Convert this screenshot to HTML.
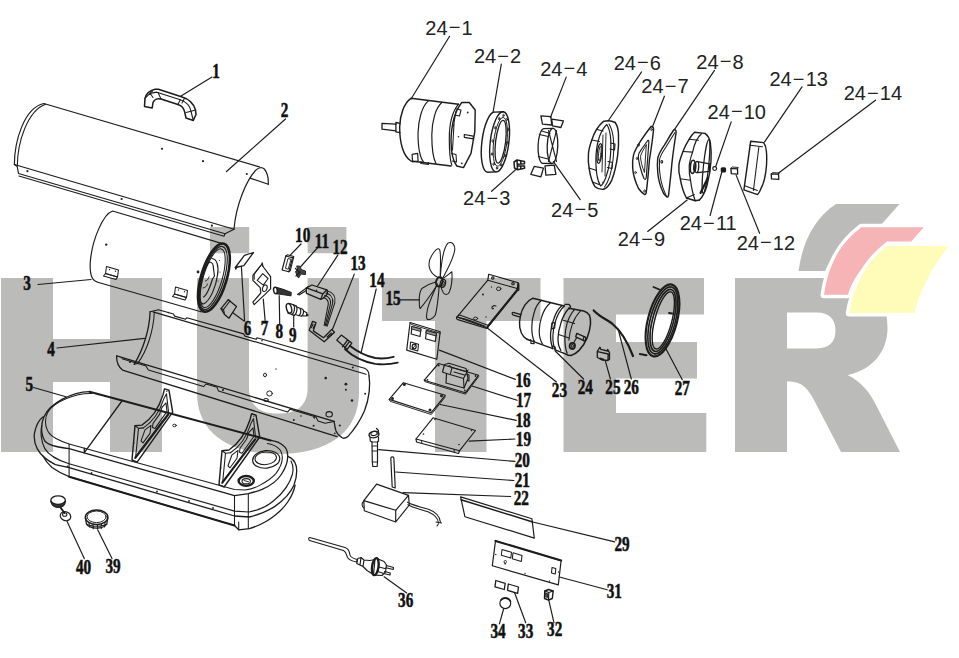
<!DOCTYPE html>
<html><head><meta charset="utf-8"><title>HUTER parts diagram</title>
<style>
html,body{margin:0;padding:0;background:#fff;}
body{width:959px;height:658px;overflow:hidden;font-family:"Liberation Sans",sans-serif;}
svg{display:block}
.n{font-family:"Liberation Serif",serif;font-weight:bold;font-size:20px;}
.s{font-family:"Liberation Sans",sans-serif;font-size:20px;}
</style></head><body>
<svg width="959" height="658" viewBox="0 0 959 658">
<rect width="959" height="658" fill="#fff"/>

<g fill="#bbbbb9" stroke="none">
<path d="M1,278 H53 V339 H110 V278 H162 V452 H110 V382 H53 V452 H1 Z"/>
<rect x="210" y="227" width="39.2" height="26.2"/>
<rect x="307.6" y="227" width="38.8" height="26.2"/>
<path d="M197,278 H249 V388 C249,405 259,413.6 278.3,413.6 C297.5,413.6 307.6,405 307.6,388 V278 H359 V393 C359,432 328,454 278,454 C228,454 197,432 197,393 Z"/>
<path d="M382,278 H540.5 V321 H486.5 V452 H435 V321 H382 Z"/>
<path d="M563.5,278 H704 V314.5 H616 V342 H697 V378.5 H616 V413 H706.3 V452 H563.5 Z"/>
<path fill-rule="evenodd" d="M735,278 H845 C875,278 887.5,300 887.5,328 C887.5,352 872,370 847.6,375 C862,382 870,393 876,405 L900,452 H841 L815,402 C808,388 802,382 790,381.5 H787 V452 H735 Z M787,312.6 H817 C829,312.6 835.5,319 835.5,330.5 C835.5,342 829,348.4 817,348.4 H787 Z"/>
</g>
<g stroke="#ffffff" stroke-width="7" stroke-linejoin="round" paint-order="stroke" style="paint-order:stroke">
<path fill="#bbbbb9" d="M836,204 H899.5 L880,226 H862 C845,240 832,255 825,271 H798.5 C803,240 815,218 836,204 Z"/>
<path fill="#f6b4b6" d="M861.3,227.2 H923.7 L911.3,241.5 H887 C866,262 853,277 848,294.7 H824 C829,262 841,243 861.3,227.2 Z"/>
<path fill="#fefcb8" d="M887,246 H948.6 C932,268 920,290 914.5,313 H849.2 C854,286 866,262 887,246 Z"/>
</g>

<g stroke="#1c1c1c" fill="none" stroke-linecap="round" stroke-linejoin="round">
<path d="M144.5,106.4 L145,98.4 C146,94 150,90.5 155,89.3 L158.4,89.2 L181.4,96.7 C189,99 194,104 195.5,110 L196,114.5 L193.3,120.4 L186,118 L184.8,112.5 C184,108.5 181,105.5 177.9,104.6 L161,99 C157,98 154,100 153,102.5 L152.2,108 Z" stroke-width="1.53" fill="none"/>
<path d="M150,93.3 L156.8,92.2 L180.3,99.8 C186.5,102 190,106 191,111.3 L193.3,120.4" stroke-width="1.18" fill="none"/>
<path d="M145,98.4 L150,93.3 L153,97.5 M152.5,91 L150,93.3 M191,111.3 L186,112.5 M191,111.3 L195.5,110 M158,92.5 L161,99 M180.3,99.8 L177.9,104.6 M184.5,98.3 L182,103" stroke-width="1.06" fill="none"/>
<line x1="212" y1="77" x2="181" y2="96" stroke-width="1.18"/>
<path d="M14.4,164.5 C14.5,141 24,108 43.8,103.5 L259.5,166.9" stroke-width="1.18" fill="none"/>
<path d="M17.3,165.6 C17.5,143 27,111 45.5,104.2" stroke-width="1.06" fill="none"/>
<path d="M234,229 C236,205 246,181 255.5,170.5 C258.5,167.3 262,166.8 264.3,169 C267.3,172.5 268.6,178 268.3,184.2" stroke-width="1.18" fill="none"/>
<path d="M250,178.1 L268.3,184.2" stroke-width="1.18" fill="none"/>
<path d="M14.4,164.5 L234,229.3" stroke-width="1.18" fill="none"/>
<path d="M14.4,164.5 L17.2,166.5 L18.5,173.5 L225,233.8 L234,229.3" stroke-width="1.18" fill="none"/>
<path d="M18.9,176 L224,236.3 L225,233.8" stroke-width="1.06" fill="none"/>
<circle cx="162" cy="148.8" r="1.1" fill="#222" stroke="none"/>
<circle cx="203" cy="161.2" r="1.1" fill="#222" stroke="none"/>
<circle cx="246.8" cy="174" r="1.1" fill="#222" stroke="none"/>
<circle cx="27.4" cy="171.2" r="1.1" fill="#222" stroke="none"/>
<circle cx="121.6" cy="199" r="1.1" fill="#222" stroke="none"/>
<circle cx="211.9" cy="225.7" r="1.1" fill="#222" stroke="none"/>
<line x1="285.5" y1="119" x2="226.5" y2="171.5" stroke-width="1.18"/>
<path d="M223.2,243.9 L112.6,211 C103,214 92,240 90.3,262 C89.5,274 92,281 97.7,282.2 L201.9,312" stroke-width="1.18" fill="none"/>
<ellipse cx="213.9" cy="277.6" rx="12.8" ry="35.4" transform="rotate(16.6 213.9 277.6)" stroke-width="2.6" fill="none"/>
<ellipse cx="213.3" cy="278.0" rx="10.8" ry="32.8" transform="rotate(16.6 213.3 278.0)" stroke-width="1.18" fill="none"/>
<ellipse cx="212.70000000000002" cy="278.20000000000005" rx="9.4" ry="30.5" transform="rotate(16.6 212.70000000000002 278.20000000000005)" stroke-width="1.06" fill="none"/>
<path d="M212,258.5 C217,259 219,266 217.5,275 C216,287 210,301 203.5,304 C200,304 199,298 200,290" stroke-width="1.18" fill="none"/>
<path d="M209.5,262 C205,266 201,278 200,290 M209.5,262 C212,262 213.5,265 213.5,269 M203.5,297 C206,296 210,288 212.5,279 L214.5,276 L213.5,269" stroke-width="1.18" fill="none"/>
<path d="M205.5,281 C207,281 208.5,279 209,277 M203,288 C205,288 207,286 207.5,284" stroke-width="0.94" fill="none"/>
<circle cx="219.5" cy="260.5" r="0.6" fill="#222" stroke="none"/>
<circle cx="217.5" cy="266" r="0.6" fill="#222" stroke="none"/>
<circle cx="220" cy="272" r="0.6" fill="#222" stroke="none"/>
<circle cx="218" cy="281" r="0.6" fill="#222" stroke="none"/>
<circle cx="106.2" cy="244.6" r="1.2" fill="#222" stroke="none"/>
<circle cx="198" cy="272" r="1.4" fill="#222" stroke="none"/>
<path d="M106.5,266.5 L118.5,270.0 L117.5,277.0 L105.5,273.5 Z" stroke-width="1.06" fill="none"/>
<path d="M105.5,273.5 L117.5,277.0 L116.0,279.5 L103.5,276.0 Z" stroke-width="1.06" fill="none"/>
<circle cx="109.5" cy="269.5" r="0.7" fill="#222" stroke="none"/>
<circle cx="115.5" cy="271.3" r="0.7" fill="#222" stroke="none"/>
<path d="M175.5,287 L187.5,290.5 L186.5,297.5 L174.5,294 Z" stroke-width="1.06" fill="none"/>
<path d="M174.5,294 L186.5,297.5 L185.0,300 L172.5,296.5 Z" stroke-width="1.06" fill="none"/>
<circle cx="178.5" cy="290" r="0.7" fill="#222" stroke="none"/>
<circle cx="184.5" cy="291.8" r="0.7" fill="#222" stroke="none"/>
<line x1="38" y1="284.5" x2="91" y2="279.5" stroke-width="1.18"/>
<path d="M235.3,267.5 L244.4,255.3 L253.5,252.5 L243.8,265.7 Z" stroke-width="1.3" fill="none"/>
<path d="M235.3,267.5 L235.8,269.5 L237,267" stroke-width="0.94" fill="none"/>
<path d="M221,308.6 L228.3,299.7 L236.5,306.5 L229,318.2 L224.5,314.5 Z" stroke-width="1.3" fill="none"/>
<path d="M228.3,299.7 L230,301 L223.5,309.5 L224.5,314.5 M221,308.6 L223.5,309.5" stroke-width="1.18" fill="none"/>
<line x1="241.4" y1="266.7" x2="244.6" y2="321" stroke-width="1.18"/>
<line x1="232.5" y1="312.5" x2="244" y2="321" stroke-width="1.18"/>
<path d="M261.5,264.5 L270.6,276.6 L270.6,288.8 L264.5,294.9 L254.2,304.6 L252.9,302.2 L260.8,293 L260.2,287.6 L252.9,280.3 L252.9,275.4 Z" stroke-width="1.18" fill="none"/>
<path d="M257.2,280.3 L262.7,273.6 L268.1,278.5 L263.3,285.1 Z" stroke-width="1.06" fill="none"/>
<path d="M260.2,266.3 L254.2,274.3 L254.2,279.3 M261.5,264.5 L262.3,262.8 L263,266.5" stroke-width="1.06" fill="none"/>
<ellipse cx="264.8" cy="288.2" rx="2.2" ry="3.4" transform="rotate(20 264.8 288.2)" stroke-width="1.06" fill="none"/>
<line x1="263.3" y1="299.1" x2="265.1" y2="320.4" stroke-width="1.18"/>
<ellipse cx="275.6" cy="290.5" rx="2.0" ry="3.3" transform="rotate(-12 275.6 290.5)" stroke-width="1.42" fill="none"/>
<path d="M277.5,287.6 L284,289.6 L291.3,292.4 L291,295.9 L284,294.8 L277.3,293.9 Z" stroke-width="0.94" fill="#333"/>
<line x1="279.2" y1="295.5" x2="279.7" y2="324" stroke-width="1.18"/>
<ellipse cx="289" cy="308.3" rx="2.5" ry="4.9" transform="rotate(-15 289 308.3)" stroke-width="1.42" fill="none"/>
<path d="M290,303.5 L296,305.8 M287.8,313 L294.3,315.4" stroke-width="1.3" fill="none"/>
<path d="M296,305.8 C298,308 297,313.5 294.3,315.4 M293.5,304.8 C295.5,307 294.5,313 292,314.6" stroke-width="1.18" fill="none"/>
<path d="M296.8,307 L302.8,309.3 M295.8,314.8 L301.3,316.3 M302.8,309.3 C304.3,311 303.5,315 301.3,316.3 M300,308.3 C301.5,310.5 300.8,314.5 298.8,315.7" stroke-width="1.18" fill="none"/>
<path d="M303.5,311 L306.8,312.8 L306.5,316 L302.5,315.8" stroke-width="1.18" fill="none"/>
<circle cx="307.3" cy="315" r="1.3" fill="#222" stroke="none"/>
<line x1="293.7" y1="315.5" x2="293.7" y2="327" stroke-width="1.18"/>
<path d="M282.1,270 L285.8,256 L292.5,257.8 L288.8,271.8 Z" stroke-width="1.18" fill="none"/>
<path d="M285.5,268 L288,258.5 L291,259.3 L288.3,268.8 Z" stroke-width="0.94" fill="none"/>
<path d="M285.8,256 L287.3,254.8 L293.8,256.6 L292.5,257.8 M293.8,256.6 L290.3,270.5 L288.8,271.8" stroke-width="1.06" fill="none"/>
<line x1="290" y1="255.3" x2="301" y2="244" stroke-width="1.18"/>
<path d="M297,266 L300.5,266.3 L301,269.5 L305.5,271 L305.5,274.5 L301,274 L298.5,278 L296.8,275 L295.5,271.5 L297.5,270 Z" stroke-width="0.94" fill="#444"/>
<path d="M295.5,268.5 L299,272 M296,276 L300,272" stroke-width="1.18" fill="none"/>
<line x1="301.3" y1="266" x2="318.6" y2="246.5" stroke-width="1.18"/>
<path d="M306.4,287.8 L311.9,285 L326.9,289.8 L322.8,293.9 Z" stroke-width="1.3" fill="none"/>
<path d="M306.4,287.8 L306.4,293.3 L320.8,299.4 L322.8,293.9 M320.8,299.4 L323.5,298 L327.6,293.9 L326.9,289.8" stroke-width="1.3" fill="none"/>
<path d="M297.5,294.4 L308.5,286.4 M299,295 L306.4,290.6" stroke-width="1.18" fill="none"/>
<circle cx="316.5" cy="290.4" r="0.8" fill="#222" stroke="none"/>
<path d="M323.5,297.4 C327.5,298.8 328.6,300.5 328.3,304.2 L324.2,325.4" stroke-width="1.06" fill="none"/>
<path d="M324.6,295.2 C329.3,296.7 331.1,298.8 330.5,303.7 L325.2,325.7" stroke-width="1.06" fill="none"/>
<path d="M325.8,293.0 C331.2,294.6 333.5,297.2 332.6,303.3 L326.2,325.9" stroke-width="1.06" fill="none"/>
<path d="M326.9,290.8 C333.0,292.5 336.0,295.5 334.8,302.8 L327.2,326.2" stroke-width="1.06" fill="none"/>
<line x1="337.8" y1="255.1" x2="317.6" y2="286" stroke-width="1.18"/>
<path d="M309.2,330.2 L312.6,321.3 L316,322.7 L313.3,330.9 L323.5,337.7 L331.7,329.5 L334.5,332.2 L324.2,341.8 Z" stroke-width="1.3" fill="none"/>
<path d="M313,324 L311.5,327.8 M314.6,324.8 L313.2,328.6 M327,337 L331.3,332.8 M327.8,338 L332,333.8" stroke-width="1.06" fill="none"/>
<line x1="332.4" y1="329.5" x2="354.3" y2="274.1" stroke-width="1.18"/>
<path d="M336.7,340.1 L341.3,335.1 L351.8,343 L347.2,349.3 Z M342.5,346.8 L347.2,340.5 M344.6,348 L349.2,341.9" stroke-width="1.3" fill="none"/>
<path d="M350.1,345.9 C356,350.5 364,355.5 375.2,358 C382,359 388,358.3 393.6,356.8" stroke-width="1.89" fill="none"/>
<path d="M345.1,349.3 C352,356 362,361.5 375.2,363.9 C384,365 391,364.3 397.7,362.6" stroke-width="1.89" fill="none"/>
<line x1="376.2" y1="289" x2="361" y2="353" stroke-width="1.18"/>
<path d="M153,311.9 L366,374.3" stroke-width="1.18" fill="none"/>
<path d="M150.1,311.7 L158.4,309.7 L173.5,314.0 L174.5,316.1 L185.5,319.2 L186.8,317.8 L243.6,333.9 L245.0,336.1 L256.0,339.3 L257.0,337.8 L364.5,368.3 C367.5,369.5 369,372 369,375.8" stroke-width="1.18" fill="none"/>
<path d="M150.1,311.7 C149.5,330 143,350 134.2,364.3" stroke-width="1.3" fill="none"/>
<path d="M154.3,312.3 C153.5,331 147,351 137.6,363.4" stroke-width="1.06" fill="none"/>
<path d="M134.2,364.3 L137.6,363.4" stroke-width="1.06" fill="none"/>
<path d="M116.7,355.9 L334.1,421.4" stroke-width="1.3" fill="none"/>
<path d="M116.7,355.9 C116.3,361 118.5,366.5 122.5,370.1 L337.1,436.6" stroke-width="1.3" fill="none"/>
<path d="M369,375.8 C370.5,384 369.5,398 364.5,410.8 C360,421 354,430 347.8,436.6 C345,438.5 342.5,438.3 341.7,437.4 C339,436 337,433.5 336,431 C335,428 334.5,424 334.1,421.4" stroke-width="1.3" fill="none"/>
<path d="M122.0,358.7 L146.0,365.9 L148.4,370.0 L203.5,386.6 L206.0,384.0 L217.0,387.3 L218.5,391.1 L287.7,411.9 L290.0,409.3 L316.0,417.1 L318.0,421.1 L325.0,423.2 L334.1,421.4" stroke-width="1.06" fill="none"/>
<circle cx="130" cy="362" r="1.1" fill="#222" stroke="none"/>
<circle cx="223" cy="390" r="1.1" fill="#222" stroke="none"/>
<circle cx="293.8" cy="419.9" r="1.0" fill="#222" stroke="none"/>
<circle cx="314.3" cy="417.6" r="1.1" fill="#222" stroke="none"/>
<circle cx="313.6" cy="425.7" r="1.0" fill="#222" stroke="none"/>
<circle cx="339.8" cy="425.5" r="1.1" fill="#222" stroke="none"/>
<circle cx="334.8" cy="433.3" r="0.9" fill="#222" stroke="none"/>
<circle cx="168.3" cy="312.6" r="0.8" fill="#222" stroke="none"/>
<circle cx="262" cy="340.8" r="0.8" fill="#222" stroke="none"/>
<circle cx="352.8" cy="367.5" r="1.0" fill="#222" stroke="none"/>
<circle cx="325.7" cy="378.1" r="1.3" fill="#222" stroke="none"/>
<circle cx="345.9" cy="384.2" r="1.4" fill="#222" stroke="none"/>
<circle cx="345.9" cy="389.8" r="1.0" fill="#222" stroke="none"/>
<circle cx="365.2" cy="393.8" r="1.0" fill="#222" stroke="none"/>
<circle cx="352" cy="400.5" r="1.3" fill="#222" stroke="none"/>
<circle cx="276" cy="369" r="0.7" fill="#222" stroke="none"/>
<circle cx="301" cy="416" r="0.8" fill="#222" stroke="none"/>
<ellipse cx="265" cy="375" rx="1.5" ry="1.8" transform="rotate(0 265 375)" stroke-width="0.94" fill="none"/>
<ellipse cx="269.5" cy="393.5" rx="2.8" ry="2.6" transform="rotate(0 269.5 393.5)" stroke-width="0.94" fill="none"/>
<ellipse cx="266" cy="400" rx="2.3" ry="1.6" transform="rotate(0 266 400)" stroke-width="0.94" fill="none"/>
<ellipse cx="329.2" cy="414.3" rx="3.2" ry="2.7" transform="rotate(0 329.2 414.3)" stroke-width="1.06" fill="none"/>
<line x1="57" y1="348" x2="144.5" y2="338.3" stroke-width="1.18"/>
<path d="M89.5,391.6 C72,392 50,403 44,416.7 C41,423 40.3,433 44.8,441 C48,445 55.4,447.1 69.1,448.6 L234.5,495.7 L248.3,493.6 C253,492.5 258,491 262.1,489.4 C270,486 277,481 281.3,474.5 C285,469 288,462 287.7,455.3 C287.5,450 286,447.5 283.4,445.7 C280,442.5 276,441 270.6,440.4" stroke-width="1.3" fill="none"/>
<line x1="89.5" y1="391.8" x2="270.6" y2="440.4" stroke-width="2.12"/>
<path d="M91.9,393.5 C75,393 54,402 47.8,412.2 C44.5,418 44.5,427 49.3,433.4 C52.5,437.5 58,440.3 69.1,444.1 L234.5,489.5 L245.1,490 C251,489 256,487.5 260,485.1 C267,481.5 272.5,477.5 276,473.4 C280,468 282.5,462.5 282.3,457.4 C282,453 281,450.5 279.1,448.9 C276,446 272,444.3 267.4,443.6" stroke-width="1.06" fill="none"/>
<path d="M41.7,425.8 C40.5,432 41,442 44.8,448.6 C48,454 54,459 69.1,463.8 L234.5,511.1 L249,512 C259,510 268,506 274.5,500 C283,493 290,483 292.5,474 C293.5,469 293,464.5 291,461" stroke-width="1.18" fill="none"/>
<path d="M43.2,416.7 C38.5,420 35.6,427.4 34.5,433 C33.5,440 35,444.5 37.2,448.6 C40,454 45,459.3 55.4,464.6 L69.1,467.6 L234.5,516 L249.4,517 C259,514.5 268,511 274.9,506.4 C284,500 291,492 294,485 C296.5,478 297.2,471 296.2,466 C295,461 292,458 287.7,456.4" stroke-width="1.3" fill="none"/>
<path d="M43.2,456.2 C45,460 47.8,463.8 52,467.5 C57,471 62,474 69.1,476.7 L234.5,525.5 L238.7,529.8 L249.4,528.7 C256,526.5 262,524 266.4,521.3 C275,516 283,509 287.7,502 C291.5,496.5 294,491 295.1,485.1" stroke-width="1.3" fill="none"/>
<line x1="69.1" y1="476.7" x2="234.5" y2="525.5" stroke-width="2.01"/>
<path d="M69.1,444.1 L69.1,476.7 M234.5,495.7 L234.5,525.5 M248.3,493.6 L248.3,528.7 M238.7,529.8 L238.7,522" stroke-width="1.06" fill="none"/>
<path d="M122.3,400.5 L84.3,452.6 L84.3,448.2" stroke-width="1.3" fill="none"/>
<circle cx="67.5" cy="466.5" r="0.9" fill="#222" stroke="none"/>
<circle cx="91.5" cy="473" r="0.9" fill="#222" stroke="none"/>
<circle cx="157" cy="491.5" r="0.9" fill="#222" stroke="none"/>
<circle cx="189" cy="501" r="0.9" fill="#222" stroke="none"/>
<circle cx="213" cy="508" r="0.9" fill="#222" stroke="none"/>
<ellipse cx="266.2" cy="459.4" rx="13.6" ry="8.8" transform="rotate(-6 266.2 459.4)" stroke-width="1.18" fill="none"/>
<ellipse cx="265.7" cy="458.3" rx="10.8" ry="6.3" transform="rotate(-6 265.7 458.3)" stroke-width="1.06" fill="none"/>
<ellipse cx="246.2" cy="480.9" rx="7.6" ry="4.9" transform="rotate(0 246.2 480.9)" stroke-width="2.36" fill="none"/>
<ellipse cx="246.2" cy="481.2" rx="4.2" ry="2.6" transform="rotate(0 246.2 481.2)" stroke-width="1.06" fill="none"/>
<path d="M244,480.5 L248.5,481.8" stroke-width="0.94" fill="none"/>
<path d="M164.5,388.9 L169.0,390.29999999999995 L172.7,412.09999999999997 L137.1,462.09999999999997 L132.0,460.0 L135.0,425.79999999999995 L141.9,425.09999999999997 C151.5,418.9 159.0,407.4 163.0,394.9 Z" stroke-width="1.42" fill="none"/>
<path d="M168.1,414.5 L135.5,457.5" stroke-width="2.24" fill="none"/>
<path d="M138.5,428.4 L135.7,456.59999999999997 M135.0,425.79999999999995 L138.5,428.4 L143.5,427.9" stroke-width="1.06" fill="none"/>
<path d="M143.5,427.9 C152.5,421.9 160.0,410.9 164.0,398.4 L166.5,393.7 L168.6,412.9" stroke-width="1.06" fill="none"/>
<path d="M145.0,429.9 L151.0,425.4 L150.0,433.4 L143.0,442.9 L141.0,440.9 Z" stroke-width="1.06" fill="none"/>
<path d="M153.0,423.4 L159.5,414.4 L162.0,407.4 L166.0,402.9 L167.0,411.4 L155.0,428.4 L152.5,427.4 Z" stroke-width="1.06" fill="none"/>
<circle cx="166.8" cy="391.4" r="0.6" fill="#222" stroke="none"/>
<circle cx="170.0" cy="413.4" r="0.6" fill="#222" stroke="none"/>
<circle cx="135.0" cy="458.4" r="0.6" fill="#222" stroke="none"/>
<circle cx="134.0" cy="442.9" r="0.6" fill="#222" stroke="none"/>
<path d="M251.5,413.8 L256.0,415.2 L259.7,437.0 L224.1,487.0 L219.0,484.9 L222.0,450.7 L228.9,450.0 C238.5,443.8 246.0,432.3 250.0,419.8 Z" stroke-width="1.42" fill="none"/>
<path d="M255.1,439.40000000000003 L222.5,482.4" stroke-width="2.24" fill="none"/>
<path d="M225.5,453.3 L222.7,481.5 M222.0,450.7 L225.5,453.3 L230.5,452.8" stroke-width="1.06" fill="none"/>
<path d="M230.5,452.8 C239.5,446.8 247.0,435.8 251.0,423.3 L253.5,418.6 L255.6,437.8" stroke-width="1.06" fill="none"/>
<path d="M232.0,454.8 L238.0,450.3 L237.0,458.3 L230.0,467.8 L228.0,465.8 Z" stroke-width="1.06" fill="none"/>
<path d="M240.0,448.3 L246.5,439.3 L249.0,432.3 L253.0,427.8 L254.0,436.3 L242.0,453.3 L239.5,452.3 Z" stroke-width="1.06" fill="none"/>
<circle cx="253.8" cy="416.3" r="0.6" fill="#222" stroke="none"/>
<circle cx="257.0" cy="438.3" r="0.6" fill="#222" stroke="none"/>
<circle cx="222.0" cy="483.3" r="0.6" fill="#222" stroke="none"/>
<circle cx="221.0" cy="467.8" r="0.6" fill="#222" stroke="none"/>
<ellipse cx="174.5" cy="425.5" rx="1.8" ry="1.3" transform="rotate(0 174.5 425.5)" stroke-width="0.94" fill="none"/>
<line x1="33.5" y1="387.5" x2="66" y2="396.7" stroke-width="1.18"/>
<ellipse cx="58.1" cy="500.4" rx="7.3" ry="4.6" transform="rotate(0 58.1 500.4)" stroke-width="1.3" fill="none"/>
<path d="M50.9,501 C51.5,506 55,507.5 58.5,507.5 C62,507.5 65,506 65.4,501 C62,505.3 54,505.3 50.9,501 Z" stroke-width="1.18" fill="#333"/>
<line x1="60.5" y1="507.5" x2="64.5" y2="513" stroke-width="1.89"/>
<ellipse cx="65.5" cy="516.2" rx="5.4" ry="4.4" transform="rotate(20 65.5 516.2)" stroke-width="1.18" fill="none"/>
<ellipse cx="64.7" cy="514.5" rx="2.2" ry="1.8" transform="rotate(0 64.7 514.5)" stroke-width="1.06" fill="none"/>
<line x1="67.1" y1="521.5" x2="84.3" y2="558.6" stroke-width="1.18"/>
<ellipse cx="96.6" cy="517.3" rx="11.2" ry="7.2" transform="rotate(0 96.6 517.3)" stroke-width="1.53" fill="none"/>
<ellipse cx="96.6" cy="516.8" rx="9.5" ry="5.8" transform="rotate(0 96.6 516.8)" stroke-width="0.94" fill="none"/>
<path d="M85.4,518 L86.5,524 C90,529.5 103,529.5 106.8,524 L107.8,518" stroke-width="1.3" fill="none"/>
<path d="M86.5,524 C90,527 103,527 106.8,524 M89,522.5 L89.5,527 M93,524 L93.3,528.7 M97.5,524.5 L97.5,529 M101.5,524 L101.3,528.5 M105,522.5 L104.5,527" stroke-width="1.06" fill="none"/>
<line x1="97.7" y1="529.8" x2="112" y2="558.6" stroke-width="1.18"/>
<path d="M438.3,277.8 C427,272 427.5,262 432,255 C435,250 438,247.5 439.5,249.5 C441.5,253 440,270 440.3,276.8" stroke-width="1.06" fill="none"/>
<path d="M440.3,276.8 C441,268 442,250 447.7,243.4 C452,240 456,246 454.4,251.7 C452,262 446,272 442.3,278.8" stroke-width="1.06" fill="none"/>
<path d="M442.3,278.8 C446,277 450,273 451.9,271.8 C452.5,280 451,288 449.4,291.9 C447.5,295.5 445,295 443.5,293 C441.5,290 441,287 441.3,284.8" stroke-width="1.06" fill="none"/>
<path d="M439.3,284.8 C438.5,295 437.5,308 435.2,315.3 C432.5,319.5 428,320.5 426.8,318.6 C426,316 427,312 427.6,308.6 C430,300 434,292 437.3,283.8" stroke-width="1.06" fill="none"/>
<path d="M436.3,281.8 C432,283 426,285.5 421.8,288.5 C419.5,292 419,297 419.3,301.9 C419.3,305 419.5,307.5 420.1,308.6 C426,302 432,293 437.3,284.8" stroke-width="1.06" fill="none"/>
<ellipse cx="439.3" cy="281.8" rx="3.2" ry="4.8" transform="rotate(15 439.3 281.8)" stroke-width="1.89" fill="none"/>
<ellipse cx="442.90000000000003" cy="283.3" rx="2.6" ry="4" transform="rotate(15 442.90000000000003 283.3)" stroke-width="1.18" fill="none"/>
<ellipse cx="443.1" cy="283.40000000000003" rx="1.2" ry="2" transform="rotate(15 443.1 283.40000000000003)" stroke-width="0.94" fill="none"/>
<path d="M438.3,277.0 L442.3,279.2 M438.8,286.6 L442.8,287.40000000000003" stroke-width="1.06" fill="none"/>
<line x1="400.4" y1="299.9" x2="419.3" y2="299.9" stroke-width="1.18"/>
<path d="M488.7,274.3 L518.3,282.7 L517.1,290.2 L487,327.8 L457.2,316.9 L487.8,280.2 Z" stroke-width="1.18" fill="none"/>
<path d="M487.8,280.2 L517.1,288.5" stroke-width="1.06" fill="none"/>
<path d="M517.1,290.2 L488.5,325.5 L487,327.8 M518.3,284 L518.3,290" stroke-width="2.24" fill="none"/>
<path d="M457.2,316.9 C455.8,317.5 456.5,319.3 457.8,319.6 L486,328.2" stroke-width="1.18" fill="none"/>
<path d="M457.2,316.9 L459,314.8 L488.5,325.5 M459.5,317.8 C466,319 478,323.5 485,326.3" stroke-width="1.18" fill="none"/>
<ellipse cx="492.8" cy="278" rx="1.3" ry="1.1" transform="rotate(0 492.8 278)" stroke-width="1.06" fill="none"/>
<ellipse cx="513" cy="283.7" rx="1.3" ry="1.1" transform="rotate(0 513 283.7)" stroke-width="1.06" fill="none"/>
<circle cx="491.5" cy="287" r="0.7" fill="#222" stroke="none"/>
<circle cx="483" cy="294.5" r="1.0" fill="#222" stroke="none"/>
<circle cx="486" cy="317" r="0.7" fill="#222" stroke="none"/>
<ellipse cx="498.7" cy="288.8" rx="2.2" ry="1.8" transform="rotate(0 498.7 288.8)" stroke-width="0.94" fill="none"/>
<ellipse cx="475.5" cy="318.5" rx="2.2" ry="1.4" transform="rotate(0 475.5 318.5)" stroke-width="0.94" fill="none"/>
<path d="M492,307 L494,305.5 L496,306 M492,307 C491.5,308.5 492.5,309 493.5,308.5" stroke-width="1.06" fill="none"/>
<line x1="487" y1="327.8" x2="556.5" y2="382" stroke-width="1.18"/>
<path d="M521,314.5 L513.3,312.3 C511.8,312.3 511.8,314.8 513.5,315.2 L520.4,317.2" stroke-width="1.3" fill="none"/>
<path d="M564.3,306 L532.9,298.2 C529,300 526.5,302.5 525,304.8 C522.5,308.5 521,312 520.4,316.2 C519.5,320 519.3,324 519.8,327.6 C520.5,331.5 521.8,334.5 523.8,336.8 C525.5,338.7 527.5,339.8 529.5,340.2 L552.9,348.7" stroke-width="1.42" fill="none"/>
<path d="M541.5,300.3 C537.5,303.5 535.3,308 534.1,312.8 C532.5,317.5 531.8,322.5 531.8,327.6 C531.8,333 532.5,337.5 534.1,341.3" stroke-width="1.18" fill="none"/>
<path d="M550.6,302.5 C546,306.5 543.2,311.5 541.5,317.4 C540,322 539.2,326.5 539.2,331 C539.2,336 540.3,340.5 542.6,344.2" stroke-width="1.18" fill="none"/>
<path d="M562,305.4 C558,309 555.5,313.5 554,318.5 C552,323.5 550.8,328.5 550.6,333.3 C550.3,339 551,344 552.9,348.7" stroke-width="1.3" fill="none"/>
<path d="M564.3,306 C560,310 557.5,315 555.7,320.5 C554,325.5 553,330.5 552.9,335.5 C552.7,341 553.3,345.5 555.2,349.9" stroke-width="1.18" fill="none"/>
<path d="M564.9,304.3 L568.9,304.3 L570.6,306.5 L569.4,308.8" stroke-width="1.3" fill="none"/>
<path d="M551.8,323.1 L555.2,322.5 L554.6,328.2 L551.8,328.8 Z" stroke-width="1.18" fill="none"/>
<path d="M551.8,345.9 L555.2,347 L555.2,349.9" stroke-width="1.18" fill="none"/>
<path d="M530.7,339.6 L531,343.4 L534.1,343.6 L533.8,340.6" stroke-width="1.18" fill="none"/>
<path d="M568.9,308.2 L583.7,311.1 C586,311.8 588,313 589.4,315.1 C590.5,318 590.8,321 590.5,324.2 C590,329 588.8,333.5 587.1,337.9 C585,343 582.5,347 579.1,350.4 C576.5,353 574,354.8 571.1,355.6 C569,355.6 567,355 565.4,353.9 L555.2,349.9" stroke-width="1.53" fill="none"/>
<path d="M568.9,308.2 C565,312.5 562.5,317.5 560.9,323.1 C559.3,328 558.3,333 558,337.9 C557.8,342.5 558.8,347 560.9,350.4" stroke-width="1.3" fill="none"/>
<path d="M574.6,309.4 C571,313.5 568.8,318 567.1,323.1 C565.7,328 565,333 564.9,337.9 C564.8,343.5 565.5,349 567.1,353.3" stroke-width="1.18" fill="none"/>
<path d="M580.8,310.5 C577,314.5 574.2,319 572.3,324.2 C570.5,329.5 569.3,335 568.9,340.2" stroke-width="1.06" fill="none"/>
<path d="M563.2,320.2 L574.6,323.6 M558.6,334.5 L568.9,337.9" stroke-width="1.06" fill="none"/>
<path d="M576.8,333.3 L584.8,336.8 M575.7,336.8 L583.7,340.7 M576.8,333.3 L575.7,336.8" stroke-width="1.3" fill="none"/>
<ellipse cx="584.4" cy="338.8" rx="1.1" ry="2.1" transform="rotate(15 584.4 338.8)" stroke-width="1.18" fill="none"/>
<ellipse cx="572.3" cy="345.9" rx="2.7" ry="3.1" transform="rotate(10 572.3 345.9)" stroke-width="1.77" fill="none"/>
<ellipse cx="572.3" cy="345.9" rx="1.1" ry="1.4" transform="rotate(10 572.3 345.9)" stroke-width="1.06" fill="none"/>
<path d="M573.5,343 L576.5,338" stroke-width="1.18" fill="none"/>
<line x1="555.2" y1="351" x2="583.6" y2="379" stroke-width="1.18"/>
<path d="M597.3,351.4 L600,347.2 L600.8,349.3 L607.6,351 L607.6,349.4 L609.5,352.6 L609.5,359.3 L607.9,360.5 L602.2,359.9 L597.3,357.5 Z M597.5,351.7 L608.2,354 L607.9,360.5" stroke-width="1.3" fill="none"/>
<path d="M600.5,358.6 L603.5,359.8" stroke-width="2.01" fill="none"/>
<line x1="605.4" y1="361.1" x2="610.4" y2="379" stroke-width="1.18"/>
<path d="M593.7,310.4 C600,317 606,319 612,323.5 C620,330 628,343 633,356" stroke-width="2.24" fill="none"/>
<line x1="618.8" y1="331.8" x2="631.3" y2="379" stroke-width="1.18"/>
<ellipse cx="662.5" cy="320.4" rx="14.5" ry="37" transform="rotate(14.8 662.5 320.4)" stroke-width="2.12" fill="none"/>
<ellipse cx="662.8" cy="320.4" rx="12.5" ry="34.5" transform="rotate(14.8 662.8 320.4)" stroke-width="1.65" fill="none"/>
<ellipse cx="663.0" cy="320.4" rx="10.5" ry="32" transform="rotate(14.8 663.0 320.4)" stroke-width="1.65" fill="none"/>
<ellipse cx="663.3" cy="320.4" rx="8.5" ry="29.5" transform="rotate(14.8 663.3 320.4)" stroke-width="1.42" fill="none"/>
<path d="M653.5,287 L660.5,290 M639.8,354 L646.5,355.3 M669,313 L672,313.5" stroke-width="1.89" fill="none"/>
<line x1="665.5" y1="348" x2="682.3" y2="379.7" stroke-width="1.18"/>
<path d="M410.1,322.5 L440.2,331.7 L436.8,359.3 L406.7,350.1 Z" stroke-width="1.18" fill="none"/>
<path d="M410.1,322.5 L411.5,324.5 L440.2,333.3" stroke-width="0.94" fill="none"/>
<path d="M412,326.5 L421,329 L420,336.5 L411.2,334 Z" stroke-width="1.18" fill="none"/>
<path d="M426.5,330.5 L436.5,333.3 L435.3,341.5 L425.5,338.8 Z" stroke-width="1.18" fill="none"/>
<path d="M412,326.5 L421,329 L420.6,331.5 L411.8,329 Z M426.5,330.5 L436.5,333.3 L436,336 L426.2,333.2 Z" stroke-width="0.94" fill="#999"/>
<path d="M410.6,342 L418.5,344.2 L417.8,351 L410,348.8 Z" stroke-width="1.06" fill="none"/>
<ellipse cx="414.2" cy="346.5" rx="2" ry="2.3" transform="rotate(0 414.2 346.5)" stroke-width="1.18" fill="none"/>
<line x1="412.8" y1="348.5" x2="415.8" y2="344.5" stroke-width="0.94"/>
<line x1="439.3" y1="350.1" x2="515.4" y2="379.4" stroke-width="1.18"/>
<path d="M424.3,380.2 L438.5,363.5 L478.6,375.2 L465.3,392.8 Z" stroke-width="1.18" fill="none"/>
<path d="M424.3,380.2 L424.8,381.6 L465.5,394.2 L478.6,376.6" stroke-width="0.94" fill="none"/>
<path d="M444.5,364.5 L449,363.3 L466,368.5 L468,378.5 L464,388 L446,383 L446.5,373.5 L442.5,372 Z" stroke-width="1.18" fill="none"/>
<path d="M446.5,373.5 L463.5,378.5 L464,388 M463.5,378.5 L468,370 M449,365.5 L452,367.5 L450.5,373.5 M452,367.5 L466,371.5 M454,372 L464.5,375" stroke-width="1.06" fill="none"/>
<path d="M466.5,374 L469,375 L469,381 L467.5,380.5" stroke-width="1.06" fill="none"/>
<circle cx="438.8" cy="365.5" r="0.9" fill="#222" stroke="none"/>
<circle cx="475.5" cy="376" r="0.9" fill="#222" stroke="none"/>
<circle cx="464.8" cy="390.5" r="0.9" fill="#222" stroke="none"/>
<circle cx="427.5" cy="379.8" r="0.9" fill="#222" stroke="none"/>
<line x1="472" y1="386" x2="517.1" y2="400.3" stroke-width="1.18"/>
<path d="M403.4,382.7 L445.2,395.3 L431,412.8 L389.2,399.4 Z" stroke-width="1.18" fill="none"/>
<path d="M389.2,399.4 L390.2,401.3 L431.3,414.5 L445.2,397" stroke-width="0.94" fill="none"/>
<circle cx="404.3" cy="384.6" r="1.5" fill="#222" stroke="none"/>
<circle cx="441.5" cy="395.8" r="1.5" fill="#222" stroke="none"/>
<circle cx="430" cy="410" r="1.5" fill="#222" stroke="none"/>
<circle cx="392.5" cy="398.6" r="1.5" fill="#222" stroke="none"/>
<line x1="440.2" y1="404.5" x2="516.3" y2="420.4" stroke-width="1.18"/>
<path d="M433,417.8 L475.5,430.5 L459.6,450.7 L416,439 Z" stroke-width="1.18" fill="none"/>
<path d="M416,439 L416.5,442 L458.5,453.5 L459.6,450.7" stroke-width="1.18" fill="none"/>
<path d="M421.5,440.5 L421.8,443.4 M454,449.3 L454.3,452.3" stroke-width="0.94" fill="none"/>
<circle cx="435" cy="419.5" r="0.8" fill="#222" stroke="none"/>
<circle cx="471.5" cy="430.5" r="0.8" fill="#222" stroke="none"/>
<circle cx="459" cy="444.5" r="0.8" fill="#222" stroke="none"/>
<circle cx="423.5" cy="434" r="0.8" fill="#222" stroke="none"/>
<line x1="469.1" y1="441.2" x2="514.9" y2="439" stroke-width="1.18"/>
<ellipse cx="374" cy="434.5" rx="5" ry="3.2" transform="rotate(-10 374 434.5)" stroke-width="1.42" fill="none"/>
<ellipse cx="374" cy="433.5" rx="3.2" ry="2" transform="rotate(-10 374 433.5)" stroke-width="1.06" fill="none"/>
<path d="M376.5,428.5 L378.5,430.5 L378,434" stroke-width="1.18" fill="none"/>
<path d="M370,437.5 L370.3,441 L372,442 L372.3,462 L372.8,466.5 L377.2,466.5 L377.5,462 L377.5,442 L378.5,441 L378.5,437" stroke-width="1.18" fill="none"/>
<path d="M372,442 L377.5,442 M372.3,451 L377.5,451 M372.3,462 L377.5,462 M372.2,446 L377.5,446" stroke-width="0.94" fill="none"/>
<line x1="378.7" y1="449.7" x2="514.9" y2="461.4" stroke-width="1.18"/>
<path d="M390.8,458.3 C390.8,456.3 393.8,456.3 393.9,458.3 L395.2,488 L392.2,487 Z" stroke-width="1.18" fill="none"/>
<line x1="395.7" y1="472" x2="513.8" y2="480.5" stroke-width="1.18"/>
<path d="M376.6,484.1 L408.5,495.4 L395.7,510.3 L363.8,500.6 Z" stroke-width="1.18" fill="none"/>
<path d="M363.8,500.6 L364.3,510.8 L395.7,522 L395.7,510.3 M395.7,522 L409.3,505 L408.5,495.4" stroke-width="1.18" fill="none"/>
<path d="M363.8,501.5 C361.5,502 361.5,507 364,508" stroke-width="1.06" fill="none"/>
<path d="M407.4,502.3 C414,506 422,507 429,509.5 C436,512 440,517 440.5,522.5 M407.8,504.8 C414,508.5 421,509 428,511.8 C434,514.5 438,518 438.3,522.5" stroke-width="1.06" fill="none"/>
<path d="M436,522 L441.5,523 M438.5,523.8 L437,526" stroke-width="1.06" fill="none"/>
<line x1="403.2" y1="492.7" x2="510.6" y2="496.5" stroke-width="1.18"/>
<path d="M460.6,496.9 L531.9,518.8 L534.3,538.1 L464.9,516.7 Z" stroke-width="1.18" fill="none"/>
<path d="M461,499.8 L531.9,521.7" stroke-width="1.42" fill="none"/>
<line x1="531.7" y1="521.7" x2="614.7" y2="541.9" stroke-width="1.18"/>
<path d="M495.5,540.9 L561.1,560.6 L558.3,584.9 L492.3,565.7 Z" stroke-width="1.18" fill="none"/>
<path d="M495.5,540.9 L561.1,560.6" stroke-width="2.12" fill="none"/>
<path d="M502,549.5 L511.5,552.3 L510.8,558 L501.3,555.2 Z" stroke-width="1.06" fill="none"/>
<path d="M513,552.8 L522,555.5 L521.3,561.5 L512.3,558.8 Z" stroke-width="1.06" fill="none"/>
<path d="M552,567.5 L555.8,568.6 L555.3,574 L551.5,572.9 Z" stroke-width="1.06" fill="none"/>
<path d="M504,561.5 C504,560 506.5,560 506.5,561.5 L505.3,564 Z" stroke-width="0.94" fill="none"/>
<circle cx="495.8" cy="554.5" r="0.7" fill="#222" stroke="none"/>
<circle cx="525" cy="573.5" r="0.7" fill="#222" stroke="none"/>
<circle cx="549.5" cy="581" r="0.7" fill="#222" stroke="none"/>
<circle cx="558.5" cy="572" r="0.7" fill="#222" stroke="none"/>
<line x1="559.4" y1="577" x2="607.2" y2="589.8" stroke-width="1.18"/>
<path d="M495.8,580.5 L505.2,583.3 L504.3,589.5 L495,586.8 Z" stroke-width="1.3" fill="none"/>
<path d="M508.3,584 L518.5,587 L517.6,593.3 L507.5,590.3 Z" stroke-width="1.3" fill="none"/>
<line x1="514.7" y1="593" x2="525.7" y2="622.8" stroke-width="1.18"/>
<ellipse cx="505.3" cy="603.2" rx="5.4" ry="5.4" transform="rotate(0 505.3 603.2)" stroke-width="1.18" fill="none"/>
<path d="M501,600 C503,597 509,597.5 510.5,601.5" stroke-width="1.65" fill="none"/>
<line x1="503.6" y1="609" x2="499.4" y2="623.8" stroke-width="1.18"/>
<path d="M544.8,591 L548.5,589.5 L553.2,591 L552.3,598.5 L548.5,600 L544.5,598.5 Z" stroke-width="1.42" fill="none"/>
<path d="M544.8,591 L548.8,592.5 L553.2,591 M548.8,592.5 L548.5,600" stroke-width="1.18" fill="none"/>
<path d="M545.8,593 L547.8,593.8 L547.5,597.5 L545.5,596.8 Z" stroke-width="0.94" fill="#555"/>
<line x1="548.7" y1="599.8" x2="554" y2="622.8" stroke-width="1.18"/>
<path d="M309.8,537.5 C308.3,537.5 308.3,540 309.6,540.4 L343.5,550.5 C346.5,552 346.5,555 347.5,557.5 C349,560 352,561 356.5,562 L357.3,559.6 C353,558.5 350.5,557.5 350,555 C349.5,551.5 348.5,548.5 345,547.5 Z" stroke-width="1.06" fill="none"/>
<path d="M357.8,558.5 L361,557.5 L364,560 L370,560.5 L375,559.5 L373.5,574.5 L367,570.5 L363,566.5 L356.8,563.5 Z M361,557.5 L360,564.8 M364,560 L363,566.5" stroke-width="1.18" fill="none"/>
<ellipse cx="375.3" cy="566.6" rx="3.2" ry="8.6" transform="rotate(8 375.3 566.6)" stroke-width="2.36" fill="none"/>
<path d="M377.5,558.8 L384,561.5 L386.5,565 L385.5,572 L382,575.5 L376,575.2 M379,567 L385.8,568.8 M377.5,571.5 L384,573.5" stroke-width="1.18" fill="none"/>
<path d="M386.3,565.5 L393.5,567.5 L393.2,569.5 L386,567.8 M384.5,571.5 L390.3,573 L390,575 L383.5,573.5" stroke-width="1.18" fill="none"/>
<line x1="384.1" y1="576.8" x2="406.7" y2="592.9" stroke-width="1.18"/>
<path d="M395.9,124.2 L382,123.4 L382,129.2 L395.9,130.9" stroke-width="1.3" fill="none"/>
<path d="M395.9,122.5 L400,123.3 M395.9,131.8 L400,132.6 M395.9,122.5 L395.9,131.8" stroke-width="1.3" fill="none"/>
<path d="M458.5,104.2 L410.9,98.3 C404,103 400,115 399.7,126.7 C399.5,142 403,156 410.9,161 L451,166" stroke-width="1.42" fill="none"/>
<path d="M428.4,100.9 C422,106 418.3,120 418,133.4 C418,147 420,157 423.4,161.8" stroke-width="1.18" fill="none"/>
<path d="M441.8,102.5 C435.5,108 432,121 431.8,135.1 C431.8,149 433,158 435.9,163.5" stroke-width="1.18" fill="none"/>
<path d="M458.5,104.2 C452,112 449.3,125 449.3,138.4 C449.3,151 450,160 451.8,165.1" stroke-width="1.18" fill="none"/>
<path d="M461.8,102.5 L469.3,102.5 L475.2,110 L474.8,131.7 L471,153.4 L463.5,167.6 L456.8,166 C452,160 451,150 451,140 C451.5,125 454,112 461.8,102.5 Z" stroke-width="1.42" fill="none"/>
<path d="M456.3,109 L461,110 L459.5,116 L455,115 M451.5,153.5 L456,154.5 L456.5,162 L452.3,161 M453.5,126 L456,111 M452.5,150 L454.5,116" stroke-width="1.06" fill="none"/>
<path d="M464.3,134.5 L473.3,136.2 L473.3,138.8 L464.3,137.3 Z" stroke-width="1.18" fill="none"/>
<circle cx="458.5" cy="136.7" r="0.8" fill="#222" stroke="none"/>
<circle cx="467.7" cy="112.5" r="0.9" fill="#222" stroke="none"/>
<circle cx="461.8" cy="163.3" r="0.9" fill="#222" stroke="none"/>
<path d="M412.1,154.3 L417.6,153.4 L418.1,161 L412.6,161.8 Z M421,161.5 L421,163.5 L428.5,164.3 L428.5,162.5" stroke-width="1.18" fill="none"/>
<line x1="449.6" y1="36.3" x2="411" y2="99" stroke-width="1.18"/>
<ellipse cx="499.6" cy="141.8" rx="9.3" ry="30.3" transform="rotate(7 499.6 141.8)" stroke-width="1.42" fill="none"/>
<ellipse cx="500.6" cy="141.8" rx="5.0" ry="21.5" transform="rotate(7 500.6 141.8)" stroke-width="1.3" fill="none"/>
<ellipse cx="500.3" cy="141.8" rx="6.6" ry="24.5" transform="rotate(7 500.3 141.8)" stroke-width="0.94" fill="none"/>
<path d="M503.3,111.7 L494.9,112.1 A9.3,30.3 7 0 0 487.5,172.3 L495.9,171.9" stroke-width="1.42" fill="none"/>
<ellipse cx="507.7" cy="142.7" rx="0.7" ry="1.3" transform="rotate(7 507.7 142.7)" stroke-width="0.83" fill="none"/>
<ellipse cx="505.1" cy="155.8" rx="0.7" ry="1.3" transform="rotate(7 505.1 155.8)" stroke-width="0.83" fill="none"/>
<ellipse cx="501.2" cy="165.0" rx="0.7" ry="1.3" transform="rotate(7 501.2 165.0)" stroke-width="0.83" fill="none"/>
<ellipse cx="497.0" cy="168.1" rx="0.7" ry="1.3" transform="rotate(7 497.0 168.1)" stroke-width="0.83" fill="none"/>
<ellipse cx="493.6" cy="164.1" rx="0.7" ry="1.3" transform="rotate(7 493.6 164.1)" stroke-width="0.83" fill="none"/>
<ellipse cx="492.1" cy="154.1" rx="0.7" ry="1.3" transform="rotate(7 492.1 154.1)" stroke-width="0.83" fill="none"/>
<ellipse cx="492.7" cy="140.9" rx="0.7" ry="1.3" transform="rotate(7 492.7 140.9)" stroke-width="0.83" fill="none"/>
<ellipse cx="495.3" cy="127.8" rx="0.7" ry="1.3" transform="rotate(7 495.3 127.8)" stroke-width="0.83" fill="none"/>
<ellipse cx="499.2" cy="118.6" rx="0.7" ry="1.3" transform="rotate(7 499.2 118.6)" stroke-width="0.83" fill="none"/>
<ellipse cx="503.4" cy="115.5" rx="0.7" ry="1.3" transform="rotate(7 503.4 115.5)" stroke-width="0.83" fill="none"/>
<ellipse cx="506.8" cy="119.5" rx="0.7" ry="1.3" transform="rotate(7 506.8 119.5)" stroke-width="0.83" fill="none"/>
<ellipse cx="508.3" cy="129.5" rx="0.7" ry="1.3" transform="rotate(7 508.3 129.5)" stroke-width="0.83" fill="none"/>
<line x1="501.3" y1="64.2" x2="493.1" y2="112" stroke-width="1.18"/>
<path d="M514,162 L517,160 L524.5,161.5 M514,162 L514.5,168 L517.5,169.8 L524.5,168.3 M517,160 L517.5,169.8 M520.8,161 L520.8,164 M524.5,161.5 L524.5,163.8 M520.8,166.3 L520.8,168.8 M524.5,166 L524.5,168.3 M517.5,164.2 L524.5,163.8 M517.5,166 L524.5,166" stroke-width="1.53" fill="none"/>
<line x1="515.3" y1="170" x2="491.6" y2="191.3" stroke-width="1.18"/>
<ellipse cx="552.5" cy="145.9" rx="5.3" ry="17.6" transform="rotate(2 552.5 145.9)" stroke-width="1.3" fill="none"/>
<path d="M553.2,128.3 L543.6,128.6 A5.5,17.5 2 0 0 542.4,163.4 L551.9,163.5" stroke-width="1.3" fill="none"/>
<path d="M539.3,134.5 L548.3,136.5 M538.3,156.5 L548,159 M541.7,131 L550,133.5" stroke-width="1.06" fill="none"/>
<path d="M548.5,130.5 L556.5,161.5 M556.5,130.5 L548.5,161.5" stroke-width="1.06" fill="none"/>
<path d="M540.9,115.9 L550.9,116.7 L551.7,125 L542.5,124.2 Z" stroke-width="1.3" fill="none"/>
<path d="M551.7,119.2 L563.4,120.9 L560.9,127.5 L552.5,125.9 Z" stroke-width="1.3" fill="none"/>
<path d="M534.2,166.4 L543.4,168.1 L540.9,176.8 L530.8,174.3 Z" stroke-width="1.3" fill="none"/>
<path d="M545,165.9 L554.2,165.1 L555.9,174.3 L545.9,175.1 Z" stroke-width="1.3" fill="none"/>
<line x1="566.2" y1="77.1" x2="550.4" y2="117.5" stroke-width="1.18"/>
<line x1="580.2" y1="199.6" x2="553.4" y2="161.6" stroke-width="1.18"/>
<path d="M603.5,121.4 C598,126 594,133 591.8,140.1 C589,148 588.4,152 588.4,155.1 C588,160 588.5,165 589.3,169.3 C590.5,177 592.5,183 595.1,186.8 C597.5,189 600.5,189.5 603.5,189.3" stroke-width="1.42" fill="none"/>
<path d="M603.5,121.4 C607,120.5 612,120.8 615.2,122.5 C617.5,126 618.5,130 618.5,135.1 C618.8,142 618.5,148 617.7,155.1 C616.5,164 614.5,173 611.8,180.1 C609.5,185 607,188 603.5,189.3" stroke-width="1.42" fill="none"/>
<path d="M606.8,124.5 C601,130 597,142 596,155 C595.5,168 597,180 600.5,186 C604,184 608,174 610,160 C611.5,146 611,131 606.8,124.5 Z" stroke-width="1.18" fill="none"/>
<path d="M609,124 C614,132 614.5,146 613,160 C611.5,172 608.5,182 604.5,187" stroke-width="1.06" fill="none"/>
<path d="M591.8,140.1 L599.5,141.5 M589,168 L596.5,170.5 M597,129.5 L603,131 M592.5,182 L599,184.5" stroke-width="1.06" fill="none"/>
<ellipse cx="599.5" cy="153.5" rx="2.3" ry="10" transform="rotate(6 599.5 153.5)" stroke-width="1.18" fill="none"/>
<ellipse cx="599.8" cy="153.5" rx="1.2" ry="7.5" transform="rotate(6 599.8 153.5)" stroke-width="0.94" fill="none"/>
<path d="M610.5,143 L615,144 L614.5,150 L610,149 M608,161.5 L612.5,162.5 L612,168.5 L607.5,167.5" stroke-width="1.18" fill="none"/>
<path d="M603,135 L602,172 M606,133 L605,176" stroke-width="0.94" fill="none"/>
<circle cx="603" cy="182.5" r="0.8" fill="#222" stroke="none"/>
<line x1="641.6" y1="71.9" x2="608.1" y2="121" stroke-width="1.18"/>
<path d="M651,126.5 C652.8,126 653.8,127.5 653.5,130 C652.5,140 651,150 649.4,160.1 C648.5,172 647.5,183 646.3,191.8 C646,194.5 645,195 644.4,194.3 C641.5,192.5 640,190.5 638.5,188.5 C635.5,182 633,174 632.7,168.4 C632.3,163 632.5,159 633.5,155.1 C635,150 637.5,146 640.2,141.7 C643.5,136.5 647.5,131 651,126.5 Z" stroke-width="1.42" fill="none"/>
<path d="M647.7,140.5 C648.5,140 649,141 648.8,143 L646.3,177 C646,179.5 645,180 644,178.5 C641.5,173 638.5,162 638.3,156.5 C638.3,153.5 639.5,152 641,150 Z" stroke-width="1.18" fill="none"/>
<path d="M646.3,145 L644.5,172.5 C642.5,168 640.5,160.5 640.5,156.5 C641,153.5 644,148.5 646.3,145 Z" stroke-width="0.94" fill="none"/>
<ellipse cx="651.5" cy="129.5" rx="0.8" ry="1.1" transform="rotate(0 651.5 129.5)" stroke-width="0.83" fill="none"/>
<ellipse cx="638.5" cy="145" rx="0.8" ry="1.1" transform="rotate(0 638.5 145)" stroke-width="0.83" fill="none"/>
<ellipse cx="637" cy="158.5" rx="0.8" ry="1.1" transform="rotate(0 637 158.5)" stroke-width="0.83" fill="none"/>
<ellipse cx="635.5" cy="172.5" rx="0.8" ry="1.1" transform="rotate(0 635.5 172.5)" stroke-width="0.83" fill="none"/>
<ellipse cx="644.5" cy="191" rx="0.8" ry="1.1" transform="rotate(0 644.5 191)" stroke-width="0.83" fill="none"/>
<line x1="664.4" y1="96.2" x2="652.2" y2="127.5" stroke-width="1.18"/>
<path d="M673.6,130 C675,129 676.5,130 676.1,132.5 C674.5,143 673,153 671.9,163.4 C671,175 669.5,186 668.6,195.2 C668.2,197.5 667.2,197.5 666.5,196.5 C665,195 664.3,194.3 663.6,193.5 C660.5,187 658,178 657.7,171.8 C657.3,167 657.3,162 657.7,158.4 C658.5,154 661,150 664.4,145.1 C667.5,140 671,134 673.6,130 Z" stroke-width="1.42" fill="none"/>
<path d="M675,132.5 C672,137 668.5,143 666,147 C662.5,152 660,156 659.5,160 C659,166 659.3,172 660.5,178 C661.5,184 663.5,190 666.5,196.5" stroke-width="1.06" fill="none"/>
<ellipse cx="661.8" cy="161.8" rx="0.9" ry="1.3" transform="rotate(0 661.8 161.8)" stroke-width="1.06" fill="none"/>
<line x1="714.5" y1="70.4" x2="674.4" y2="129.7" stroke-width="1.18"/>
<path d="M704.9,133.4 L694.6,132.3 C692.5,134 690.5,137 689.2,139.2 C686.5,143.5 684.5,147.5 683,151.5 C680.5,158 679.2,162 678.9,165.1 C678.5,170 679,175 680.3,178.8 C681.5,186 683.5,192.5 686.4,198 L695.3,200.7 L699.4,200" stroke-width="1.42" fill="none"/>
<path d="M704.9,133.4 C708,135.5 709.8,139 710.4,143.3 C711.2,149 711.3,155 711,161 C710.5,170 709,178 706.9,185.7 C705,192 702.5,197 699.4,200" stroke-width="1.42" fill="none"/>
<path d="M701.5,133.7 C697,137.5 694,145 692.6,152.1 C690.5,158 689.3,162 689.2,166.5 C689,172 689.5,176 690.5,180.2 C691.5,188 693,195 695.3,200.7" stroke-width="1.18" fill="none"/>
<path d="M683,151.5 L692.6,152.1 M680.3,178.8 L690.5,180.2 M689.2,139.2 L698.5,140.3 M686.4,198 L694.3,194.5" stroke-width="1.06" fill="none"/>
<ellipse cx="706" cy="166.5" rx="2.6" ry="27" transform="rotate(6 706 166.5)" stroke-width="1.18" fill="none"/>
<path d="M700.5,193 L707.8,178" stroke-width="2.12" fill="none"/>
<path d="M697.4,161.7 L709.7,163.8 M697.4,172.7 L709.7,171.3 M709.7,163.8 L709.7,171.3" stroke-width="1.3" fill="none"/>
<ellipse cx="692.8" cy="166.8" rx="2.4" ry="6.6" transform="rotate(4 692.8 166.8)" stroke-width="1.53" fill="none"/>
<ellipse cx="696.8" cy="167" rx="1.9" ry="5.6" transform="rotate(4 696.8 167)" stroke-width="1.3" fill="none"/>
<ellipse cx="694.8" cy="167" rx="1.2" ry="4.2" transform="rotate(4 694.8 167)" stroke-width="1.06" fill="none"/>
<line x1="687.2" y1="200" x2="647.7" y2="231.5" stroke-width="1.18"/>
<ellipse cx="714.7" cy="168.6" rx="1.9" ry="1.9" transform="rotate(0 714.7 168.6)" stroke-width="1.18" fill="none"/>
<rect x="720.7" y="167.2" width="5.4" height="5.4" rx="1.6" fill="#1a1a1a" stroke="none"/>
<path d="M730.9,168.3 L737.5,168.8 L737.7,174.2 L731.3,173.7 Z" stroke-width="1.3" fill="none"/>
<path d="M730.9,168.3 L732.3,167 L738.3,167.5 L737.5,168.8" stroke-width="0.94" fill="none"/>
<path d="M750.7,141.2 L763.7,142.6 C765.5,145 766.2,148 766.4,151.5 C767,158 766.8,165 765.8,172 C764.8,179 763.5,184 761,188.4 C760,191 759,193 757.6,194.6 L743.9,189.8 Z" stroke-width="1.42" fill="none"/>
<path d="M750,145.3 L762.5,146.7 M744.8,185.7 L757.3,190.5 M758.9,146.7 L753.4,190.5" stroke-width="1.06" fill="none"/>
<path d="M771.2,173.8 L778.5,174.2 L778.8,179.3 L771.5,178.9 Z" stroke-width="1.3" fill="none"/>
<path d="M771.2,173.8 L772.4,172.6 L779.3,173 L778.5,174.2" stroke-width="0.94" fill="none"/>
<line x1="731.2" y1="121.9" x2="715.8" y2="166.3" stroke-width="1.18"/>
<line x1="721.8" y1="172" x2="710.1" y2="215.5" stroke-width="1.18"/>
<line x1="736.2" y1="175.4" x2="759.6" y2="233.2" stroke-width="1.18"/>
<line x1="802" y1="86.8" x2="764.6" y2="141.9" stroke-width="1.18"/>
<line x1="875.5" y1="100.2" x2="778.6" y2="173" stroke-width="1.18"/>
</g>
<g fill="#111" stroke="#111" stroke-width="0.55"><text class="n" transform="translate(216 77.7) scale(0.76 1)" text-anchor="middle">1</text>
<text class="n" transform="translate(284.5 117.2) scale(0.76 1)" text-anchor="middle">2</text>
<text class="n" transform="translate(27 290.2) scale(0.76 1)" text-anchor="middle">3</text>
<text class="n" transform="translate(247.5 334.7) scale(0.76 1)" text-anchor="middle">6</text>
<text class="n" transform="translate(264.5 335.2) scale(0.76 1)" text-anchor="middle">7</text>
<text class="n" transform="translate(279.3 338.0) scale(0.76 1)" text-anchor="middle">8</text>
<text class="n" transform="translate(292.7 342.2) scale(0.76 1)" text-anchor="middle">9</text>
<text class="n" transform="translate(302.7 241.5) scale(0.76 1)" text-anchor="middle">10</text>
<text class="n" transform="translate(321.9 247.5) scale(0.76 1)" text-anchor="middle">11</text>
<text class="n" transform="translate(340 253.5) scale(0.76 1)" text-anchor="middle">12</text>
<text class="n" transform="translate(358 269.8) scale(0.76 1)" text-anchor="middle">13</text>
<text class="n" transform="translate(376.9 286.5) scale(0.76 1)" text-anchor="middle">14</text>
<text class="n" transform="translate(51 355.7) scale(0.76 1)" text-anchor="middle">4</text>
<text class="n" transform="translate(29.3 391.4) scale(0.76 1)" text-anchor="middle">5</text>
<text class="n" transform="translate(83.5 574.0) scale(0.76 1)" text-anchor="middle">40</text>
<text class="n" transform="translate(113 573.2) scale(0.76 1)" text-anchor="middle">39</text>
<text class="n" transform="translate(393 305.09999999999997) scale(0.76 1)" text-anchor="middle">15</text>
<text class="n" transform="translate(559.4 396.7) scale(0.76 1)" text-anchor="middle">23</text>
<text class="n" transform="translate(585.3 393.7) scale(0.76 1)" text-anchor="middle">24</text>
<text class="n" transform="translate(612.9 393.7) scale(0.76 1)" text-anchor="middle">25</text>
<text class="n" transform="translate(631.3 393.7) scale(0.76 1)" text-anchor="middle">26</text>
<text class="n" transform="translate(682.3 394.8) scale(0.76 1)" text-anchor="middle">27</text>
<text class="n" transform="translate(523 387.2) scale(0.76 1)" text-anchor="middle">16</text>
<text class="n" transform="translate(523.5 407.2) scale(0.76 1)" text-anchor="middle">17</text>
<text class="n" transform="translate(523 427.2) scale(0.76 1)" text-anchor="middle">18</text>
<text class="n" transform="translate(523.4 446.3) scale(0.76 1)" text-anchor="middle">19</text>
<text class="n" transform="translate(522.3 466.9) scale(0.76 1)" text-anchor="middle">20</text>
<text class="n" transform="translate(522.3 486.7) scale(0.76 1)" text-anchor="middle">21</text>
<text class="n" transform="translate(521.3 504.8) scale(0.76 1)" text-anchor="middle">22</text>
<text class="n" transform="translate(622.1 550.7) scale(0.76 1)" text-anchor="middle">29</text>
<text class="n" transform="translate(614.3 597.5) scale(0.76 1)" text-anchor="middle">31</text>
<text class="n" transform="translate(525.7 637.9000000000001) scale(0.76 1)" text-anchor="middle">33</text>
<text class="n" transform="translate(498.1 637.9000000000001) scale(0.76 1)" text-anchor="middle">34</text>
<text class="n" transform="translate(554.7 636.4000000000001) scale(0.76 1)" text-anchor="middle">32</text>
<text class="n" transform="translate(405.7 607.2) scale(0.76 1)" text-anchor="middle">36</text>
<text class="s" x="449" y="34.5" text-anchor="middle" stroke="none" fill="#222">24<tspan dx="1.1" dy="-0.6">−</tspan><tspan dx="1.1" dy="0.6">1</tspan></text>
<text class="s" x="497.6" y="63.4" text-anchor="middle" stroke="none" fill="#222">24<tspan dx="1.1" dy="-0.6">−</tspan><tspan dx="1.1" dy="0.6">2</tspan></text>
<text class="s" x="486.7" y="205.20000000000002" text-anchor="middle" stroke="none" fill="#222">24<tspan dx="1.1" dy="-0.6">−</tspan><tspan dx="1.1" dy="0.6">3</tspan></text>
<text class="s" x="563.8" y="75.6" text-anchor="middle" stroke="none" fill="#222">24<tspan dx="1.1" dy="-0.6">−</tspan><tspan dx="1.1" dy="0.6">4</tspan></text>
<text class="s" x="574.7" y="217.0" text-anchor="middle" stroke="none" fill="#222">24<tspan dx="1.1" dy="-0.6">−</tspan><tspan dx="1.1" dy="0.6">5</tspan></text>
<text class="s" x="637.3" y="69.5" text-anchor="middle" stroke="none" fill="#222">24<tspan dx="1.1" dy="-0.6">−</tspan><tspan dx="1.1" dy="0.6">6</tspan></text>
<text class="s" x="665" y="93.1" text-anchor="middle" stroke="none" fill="#222">24<tspan dx="1.1" dy="-0.6">−</tspan><tspan dx="1.1" dy="0.6">7</tspan></text>
<text class="s" x="720" y="68.5" text-anchor="middle" stroke="none" fill="#222">24<tspan dx="1.1" dy="-0.6">−</tspan><tspan dx="1.1" dy="0.6">8</tspan></text>
<text class="s" x="641.5" y="246.3" text-anchor="middle" stroke="none" fill="#222">24<tspan dx="1.1" dy="-0.6">−</tspan><tspan dx="1.1" dy="0.6">9</tspan></text>
<text class="s" x="736.8" y="118.7" text-anchor="middle" stroke="none" fill="#222">24<tspan dx="1.1" dy="-0.6">−</tspan><tspan dx="1.1" dy="0.6">10</tspan></text>
<text class="s" x="708.2" y="230.3" text-anchor="middle" stroke="none" fill="#222">24<tspan dx="1.1" dy="-0.6">−</tspan><tspan dx="1.1" dy="0.6">11</tspan></text>
<text class="s" x="765.9" y="250.0" text-anchor="middle" stroke="none" fill="#222">24<tspan dx="1.1" dy="-0.6">−</tspan><tspan dx="1.1" dy="0.6">12</tspan></text>
<text class="s" x="798.7" y="86.2" text-anchor="middle" stroke="none" fill="#222">24<tspan dx="1.1" dy="-0.6">−</tspan><tspan dx="1.1" dy="0.6">13</tspan></text>
<text class="s" x="872.9" y="100.3" text-anchor="middle" stroke="none" fill="#222">24<tspan dx="1.1" dy="-0.6">−</tspan><tspan dx="1.1" dy="0.6">14</tspan></text></g>
</svg>
</body></html>
